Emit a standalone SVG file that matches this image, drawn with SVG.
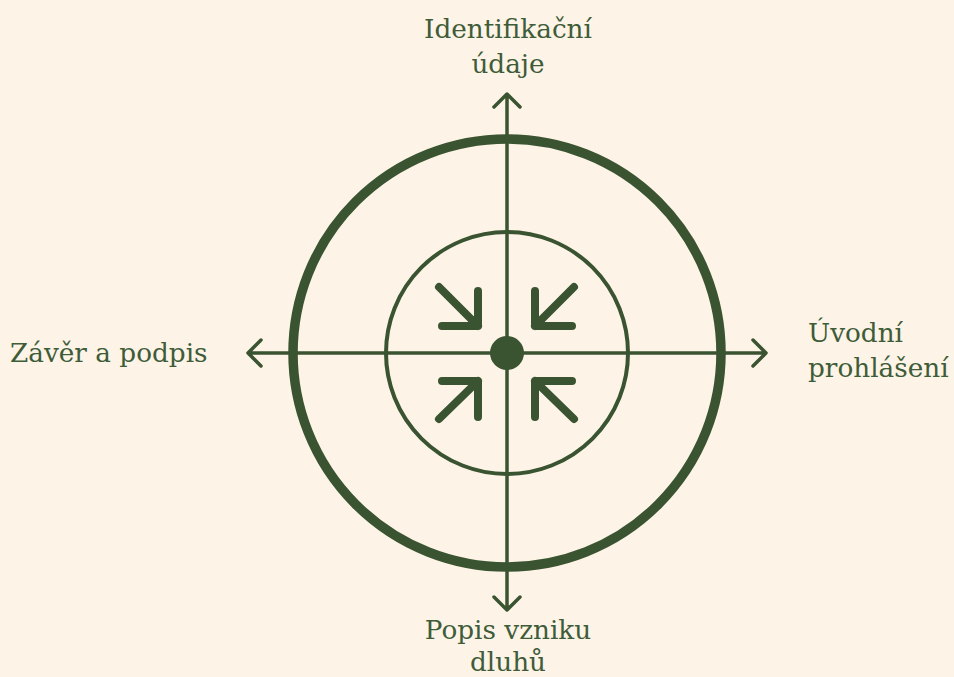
<svg xmlns="http://www.w3.org/2000/svg" width="954" height="677" viewBox="0 0 954 677">
<style>
.ln{stroke:#3a5431;fill:none;stroke-linecap:round;stroke-linejoin:round}
.ax{stroke-width:3.5}
.sm{stroke-width:8}
.lbl{font-family:"DejaVu Serif","Liberation Serif",serif;font-size:26.3px;fill:#3f5c39}
</style>
<rect width="954" height="677" fill="#fdf4e7"/>
<g id="outer-ring"><circle cx="507" cy="353" r="214" class="ln" stroke-width="9.5"/></g>
<g id="inner-ring"><circle cx="507" cy="353" r="121" class="ln" stroke-width="4"/></g>
<g id="connectors">
<path class="ln ax" d="M507 94V610M494 107L507 94L520 107M494 597L507 610L520 597"/>
<path class="ln ax" d="M248 353H766M261 340L248 353L261 366M753 340L766 353L753 366"/>
<path class="ln sm" d="M439 287L478 326M478 291V326H442"/>
<path class="ln sm" d="M574 287L535 326M535 291V326H572"/>
<path class="ln sm" d="M439 419L478 381M478 417V381H442"/>
<path class="ln sm" d="M574 419L535 381M535 417V381H572"/>
</g>
<g id="center"><circle cx="507" cy="353" r="17" fill="#3a5431"/></g>
<g id="top-label"><text class="lbl" text-anchor="middle"><tspan x="508" y="38">Identifikační</tspan><tspan x="508" y="73">údaje</tspan></text></g>
<g id="right-label"><text class="lbl"><tspan x="808" y="342">Úvodní</tspan><tspan x="808" y="377">prohlášení</tspan></text></g>
<g id="left-label"><text class="lbl" x="10" y="362">Závěr a podpis</text></g>
<g id="bottom-label"><text class="lbl" text-anchor="middle"><tspan x="508" y="639">Popis vzniku</tspan><tspan x="508" y="671">dluhů</tspan></text></g>
</svg>
